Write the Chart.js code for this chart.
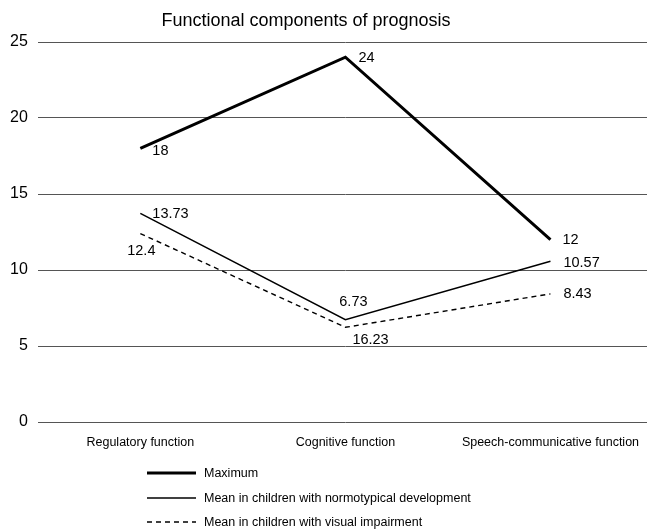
<!DOCTYPE html>
<html>
<head>
<meta charset="utf-8">
<script src="https://cdn.jsdelivr.net/npm/chart.js@4.4.1/dist/chart.umd.min.js"></script>
<style>
  html, body { margin: 0; padding: 0; background: #fff; overflow: hidden; }
  #wrap { position: relative; width: 653px; height: 532px; }
  #legend { position: absolute; left: 147px; top: 461px; font: 12.5px 'Liberation Sans', Arial, sans-serif; color: #000; }
  #legend .li { display: flex; align-items: center; height: 24.5px; }
  #legend svg { width: 49px; height: 6px; margin-right: 8px; }
</style>
</head>
<body>
<div id="wrap">
  <canvas id="chart" width="653" height="532"></canvas>
  <div id="legend"></div>
</div>
<script>
'use strict';

const categories = ['Regulatory function', 'Cognitive function', 'Speech-communicative function'];
const maximumVals = [18, 24, 12];
const normoVals = [13.73, 6.73, 10.57];
const visualVals = [12.4, 6.23, 8.43];
// value labels as printed on the original chart
const maximumText = ['18', '24', '12'];
const normoText = ['13.73', '6.73', '10.57'];
const visualText = ['12.4', '16.23', '8.43'];
const yTicks = [0, 5, 10, 15, 20, 25];

const FONT = "'Liberation Sans', Arial, sans-serif";

// where each value label sits relative to its point: [dx, dy, align]
const labelPos = {
  max:    [[12, 3, 'left'], [13, 1, 'left'], [12, 0, 'left']],
  normo:  [[12, 1, 'left'], [8, -18, 'center'], [13, 2, 'left']],
  visual: [[1, 17, 'center'], [7, 13, 'left'], [13, 0, 'left']]
};

const valueLabels = {
  id: 'valueLabels',
  afterDatasetsDraw(chart){
    const ctx = chart.ctx;
    ctx.save();
    ctx.fillStyle = '#000';
    ctx.font = '14.5px ' + FONT;
    ctx.textBaseline = 'middle';
    chart.data.datasets.forEach((ds, di) => {
      const meta = chart.getDatasetMeta(di);
      meta.data.forEach((pt, i) => {
        const [dx, dy, al] = labelPos[ds.key][i];
        ctx.textAlign = al;
        ctx.fillText(ds.texts[i], pt.x + dx, pt.y + dy);
      });
    });
    // title
    ctx.font = '18px ' + FONT;
    ctx.textAlign = 'center';
    ctx.fillText('Functional components of prognosis', 306, 21);
    ctx.restore();
  }
};

const chart = new Chart(document.getElementById('chart'), {
  type: 'line',
  data: {
    labels: categories,
    datasets: [
      { key: 'max', label: 'Maximum', data: maximumVals, texts: maximumText, borderColor: '#000', borderWidth: 3, pointRadius: 0, tension: 0, fill: false },
      { key: 'normo', label: 'Mean in children with normotypical development', data: normoVals, texts: normoText, borderColor: '#000', borderWidth: 1.5, pointRadius: 0, tension: 0, fill: false },
      { key: 'visual', label: 'Mean in children with visual impairment', data: visualVals, texts: visualText, borderColor: '#000', borderWidth: 1.4, borderDash: [5, 4], pointRadius: 0, tension: 0, fill: false }
    ]
  },
  options: {
    responsive: false, animation: false, devicePixelRatio: 1,
    layout: { padding: { top: 42, left: 0, right: 0, bottom: 69 } },
    plugins: { legend: { display: false }, title: { display: false }, tooltip: { enabled: false } },
    scales: {
      x: {
        offset: true,
        grid: { display: false, drawTicks: false },
        border: { display: false },
        ticks: { color: '#000', font: { family: FONT, size: 12.5 }, padding: 13, maxRotation: 0, autoSkip: false }
      },
      y: {
        min: 0, max: 25,
        afterBuildTicks: s => { s.ticks = yTicks.map(v => ({ value: v })); },
        grid: { color: '#555', lineWidth: 1, drawTicks: false },
        border: { display: false },
        ticks: { color: '#000', font: { family: FONT, size: 16 }, padding: 10 }
      }
    }
  },
  plugins: [valueLabels]
});

// legend below the chart, one row per series
document.getElementById('legend').innerHTML = chart.data.datasets.map(ds => {
  const dash = ds.borderDash ? ` stroke-dasharray="${ds.borderDash.join(' ')}"` : '';
  return `<div class="li"><svg viewBox="0 0 49 6"><line x1="0" y1="3" x2="49" y2="3" stroke="#000" stroke-width="${ds.borderWidth}"${dash}/></svg>${ds.label}</div>`;
}).join('');
</script>
</body>
</html>
